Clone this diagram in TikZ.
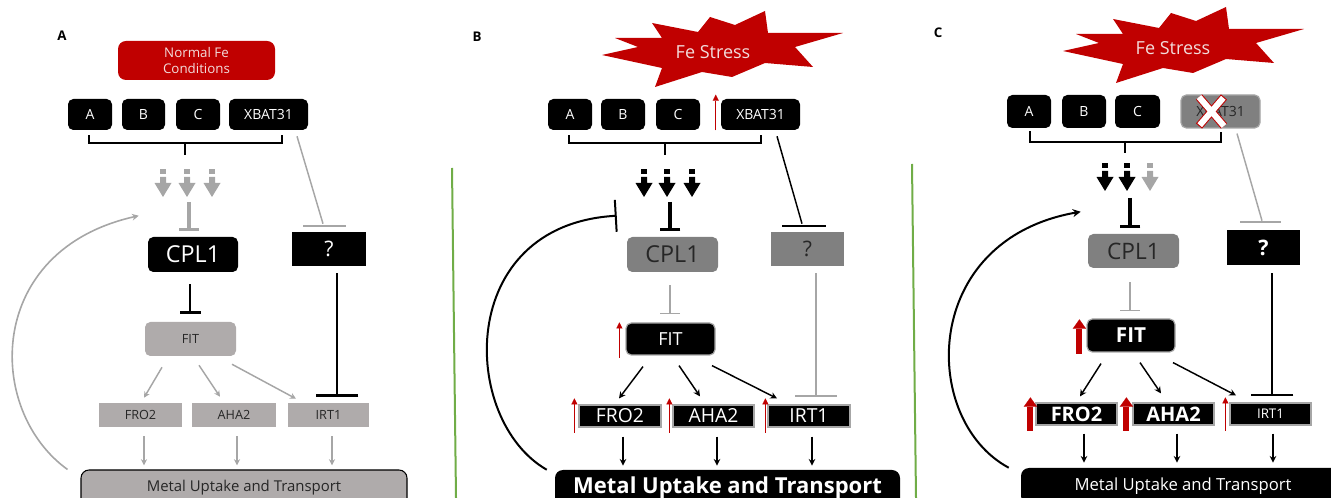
\documentclass[tikz,border=0pt]{standalone}
\usepackage{fontspec}
\setmainfont{Open Sans}
\usetikzlibrary{arrows.meta,calc}
\newcommand\myfs[1]{\fontsize{#1}{#1}\selectfont}
\definecolor{fered}{HTML}{C00000}
\definecolor{lgray}{HTML}{AFABAB}
\definecolor{mgray}{HTML}{808080}
\definecolor{lngray}{HTML}{A6A6A6}
\definecolor{dtext}{HTML}{262626}
\definecolor{brdgray}{HTML}{A6A6A6}
\definecolor{grn}{HTML}{70AD47}
\definecolor{pinktxt}{HTML}{F2DCDB}
\tikzset{
  sz/.style 2 args={minimum width=#1*0.75pt, minimum height=#2*0.75pt},
  bx/.style={rectangle, inner sep=0pt, align=center},
  rbx/.style={bx, rounded corners=4pt},
  blk/.style={fill=black, text=white},
  gbrd/.style={draw=brdgray, line width=0.9pt},
  lbl/.style={font=\myfs{10.5}},
  garr/.style={draw=lngray, line width=1.1pt, -{Stealth[length=4.5pt,width=4.5pt]}},
  barr/.style={draw=black, line width=1.1pt, -{Stealth[length=5pt,width=5pt]}},
  gline/.style={draw=lngray, line width=1.1pt},
  bline/.style={draw=black, line width=1.1pt},
  bracket/.style={draw=black, line width=1.4pt},
  redthin/.style={draw=fered, line width=1.1pt, -{Triangle[length=4.5pt,width=4.5pt,line width=0.1pt]}},
  redthick/.style={draw=fered, line width=4.5pt, -{Triangle[length=7pt,width=10pt,line width=0.1pt]}},
  inhthick/.style={line width=3.4pt, -{Bar[width=15.5pt,line width=2.4pt]}},
  inhthin/.style={line width=1.1pt, -{Bar[width=15pt,line width=1.2pt]}},
  inhlong/.style={line width=1.5pt, -{Bar[width=32pt,line width=1.8pt]}},
  pics/blockarr/.style={code={
    \path[pic actions] (-3,0) rectangle (3,5);
    \path[pic actions] (-3,8) -- (3,8) -- (3,14) -- (8.5,14) -- (0,28) -- (-8.5,14) -- (-3,14) -- cycle;
  }},
  pics/burst/.style={code={
    \path[pic actions] (-118,5) -- (-82,-3) -- (-105,-12) -- (-58,-12) -- (-68,-27) -- (-22,-18)
      -- (-10,-33) -- (15,-25) -- (45,-39) -- (48,-17) -- (123,-17) -- (75,-3) -- (93,17)
      -- (45,13) -- (12,27) -- (-18,22) -- (-65,37) -- (-58,18) -- cycle;
  }},
}
\begin{document}
\begin{tikzpicture}[x=0.75pt,y=-0.75pt]
\useasboundingbox (0,0) rectangle (1331,498);

% ================= Panel A =================
\node[font=\bfseries\myfs{10}] (labA) at (62,36) {A};
\node[rbx, sz={157}{39}, fill=fered, text=pinktxt, rounded corners=6pt,
      font=\fontsize{10}{12}\selectfont] (normA) at (196.5,60.5) {Normal Fe\\Conditions};
\node[rbx,blk,sz={44}{31},lbl] (aA) at (90,114.5) {A};
\node[rbx,blk,sz={43}{31},lbl] (bA) at (143.5,114.5) {B};
\node[rbx,blk,sz={44}{31},lbl] (cA) at (198,114.5) {C};
\node[rbx,blk,sz={79}{31},lbl] (xA) at (268.5,114.5) {XBAT31};
\node[rbx,blk,sz={90}{35},font=\myfs{17.5}] (cplA) at (193,254.5) {CPL1};
\node[bx,blk,sz={74}{34},font=\myfs{16}] (qA) at (329,249) {?};
\node[rbx,fill=lgray,text=dtext,sz={91}{34},font=\myfs{9.5}] (fitA) at (190.5,339) {FIT};
\node[bx,fill=lgray,text=dtext,sz={83}{24},font=\myfs{9.5}] (fro2A) at (140.5,415) {FRO2};
\node[bx,fill=lgray,text=dtext,sz={84}{24},font=\myfs{9.5}] (aha2A) at (234,415) {AHA2};
\node[bx,fill=lgray,text=dtext,sz={81}{24},font=\myfs{9.5}] (irt1A) at (328.5,415) {IRT1};
\node[rbx,fill=lgray,draw=black,line width=0.8pt,text=dtext,sz={326}{36},rounded corners=6pt,
      font=\myfs{11.2}] (metA) at (244,488) {Metal Uptake and Transport};

\draw[bracket] ($(aA.south)+(-1,5)$) |- ($(xA.south)+(13.5,13)$) -- ++(0,-8);
\coordinate (brA) at (185,143);
\draw[bracket] (brA) -- ++(0,12);
\pic[fill=lngray] at (163,169) {blockarr};
\pic[fill=lngray] at (187,169) {blockarr};
\pic[fill=lngray] at (212,169) {blockarr};
\draw[inhthick, draw=lngray] (189,202) -- ($(cplA.north)+(-4,-6)$);
\draw[gline] ($(xA.south)+(28.5,6)$) -- ($(qA.north)+(-6,-8)$);
\draw[gline, line width=1.5pt] ($(qA.north)+(-26,-6)$) -- ($(qA.north)+(17,-6)$);
\draw[black, line width=1.5pt, -{Bar[width=15.75pt,line width=1.8pt]}] ($(cplA.south)+(-3,12)$) -- ($(fitA.north)+(-0.5,-8)$);
\draw[black, inhlong] ($(qA.south)+(8,7)$) -- ($(irt1A.north)+(8.5,-6)$);
\draw[garr] ($(fitA.south)+(-28.5,11)$) -- ($(fro2A.north)+(3.5,-5)$);
\draw[garr] ($(fitA.south)+(8.5,9)$) -- ($(aha2A.north)+(-14,-6)$);
\draw[garr] ($(fitA.south)+(41.5,8)$) -- ($(irt1A.north)+(-32.5,-4)$);
\draw[garr] ($(fro2A.south)+(3.5,9)$) -- ++(0,29);
\draw[garr] ($(aha2A.south)+(3,9)$) -- ++(0,29);
\draw[garr] ($(irt1A.south)+(3.5,9)$) -- ++(0,29);
\draw[draw=lngray, line width=1.2pt, -{Stealth[length=5pt,width=5pt]}]
  ($(metA.north west)+(-13,0)$) .. controls (-15,410) and (-15,250) .. ($(cplA.north west)+(-9,-21)$);

% ================= Panel B =================
\draw[grn, line width=1.5pt] (452,168) -- (456,498);
\node[font=\bfseries\myfs{10}] (labB) at (477,37) {B};
\pic[fill=fered] at (720,50) {burst};
\node[font=\myfs{13.5}, text=pinktxt] (feB) at (713,52) {Fe Stress};
\node[rbx,blk,sz={44}{31},lbl] (aB) at (570,114.5) {A};
\node[rbx,blk,sz={44}{31},lbl] (bB) at (623,114.5) {B};
\node[rbx,blk,sz={44}{31},lbl] (cB) at (678,114.5) {C};
\node[rbx,blk,sz={79}{31},lbl] (xB) at (760.5,114.5) {XBAT31};
\node[rbx,fill=mgray,text=dtext,sz={91}{35},font=\myfs{17.5}] (cplB) at (672.5,254.5) {CPL1};
\node[bx,fill=mgray,text=dtext,sz={73}{34},font=\myfs{16}] (qB) at (807.5,249) {?};
\node[rbx,blk,gbrd,sz={89}{32},font=\myfs{13.5}] (fitB) at (670.5,339) {FIT};
\node[bx,blk,gbrd,sz={82}{22},font=\myfs{14.5}] (fro2B) at (620,416) {FRO2};
\node[bx,blk,gbrd,sz={81}{22},font=\myfs{14.5}] (aha2B) at (713.5,416) {AHA2};
\node[bx,blk,gbrd,sz={82}{22},font=\myfs{14.5}] (irt1B) at (809,416) {IRT1};
\node[rbx,blk,sz={345}{36},rounded corners=6pt,font=\bfseries\myfs{16.5}] (metB) at (727.5,488) {Metal Uptake and Transport};

\draw[redthin] ($(xB.south west)+(-5,0)$) -- ($(xB.north west)+(-5,-4)$);
\draw[bracket] ($(aB.south)+(-1,5)$) |- ($(xB.south)+(0.5,13)$) -- ++(0,-8);
\coordinate (brB) at (665,143);
\draw[bracket] (brB) -- ++(0,12);
\pic[fill=black] at (644,169) {blockarr};
\pic[fill=black] at (667,169) {blockarr};
\pic[fill=black] at (692,169) {blockarr};
\draw[inhthick, draw=black] (670,202) -- ($(cplB.north)+(-2.5,-6)$);
\draw[bline] ($(xB.south)+(16.5,6)$) -- ($(qB.north)+(-5.5,-8)$);
\draw[bline, line width=1.5pt] ($(qB.north)+(-25.5,-6)$) -- ($(qB.north)+(18.5,-6)$);
\draw[inhthin, draw=lngray] ($(cplB.south)+(-2.5,13)$) -- ($(fitB.north)+(-0.5,-8)$);
\draw[redthin] ($(fitB.south west)+(-6,2)$) -- ($(fitB.north west)+(-6,0)$);
\draw[draw=lngray, line width=1.1pt, -{Bar[width=31.5pt,line width=1.5pt]}] ($(qB.south)+(8.5,7)$) -- ($(irt1B.north)+(7,-7)$);
\draw[barr] ($(fitB.south)+(-27.5,11)$) -- ($(fro2B.north)+(-1,-6)$);
\draw[barr] ($(fitB.south)+(8.5,10)$) -- ($(aha2B.north)+(-13.5,-8)$);
\draw[barr] ($(fitB.south)+(41.5,10)$) -- ($(irt1B.north)+(-32,-6)$);
\draw[redthin] ($(fro2B.south west)+(-4,5)$) -- ($(fro2B.north west)+(-4,-6)$);
\draw[redthin] ($(aha2B.south west)+(-3,5)$) -- ($(aha2B.north west)+(-3,-6)$);
\draw[redthin] ($(irt1B.south west)+(-2,5)$) -- ($(irt1B.north west)+(-2,-6)$);
\draw[barr] ($(fro2B.south)+(3,9)$) -- ++(0,29);
\draw[barr] ($(aha2B.south)+(3.5,9)$) -- ++(0,29);
\draw[barr] ($(irt1B.south)+(3,9)$) -- ++(0,29);
\draw[draw=black, line width=1.5pt, -{Bar[width=24pt,line width=1.5pt]}]
  ($(metB.north west)+(-8,0)$) .. controls (460,420) and (455,225) .. ($(cplB.north west)+(-10,-21)$);

% ================= Panel C =================
\draw[grn, line width=1.5pt] (912,164) -- (916,498);
\node[font=\bfseries\myfs{10}] (labC) at (938,33) {C};
\pic[fill=fered] at (1181,46) {burst};
\node[font=\myfs{13.5}, text=pinktxt] (feC) at (1173,48) {Fe Stress};
\node[rbx,blk,sz={44}{33},lbl] (aC) at (1029,111.5) {A};
\node[rbx,blk,sz={44}{33},lbl] (bC) at (1084,111.5) {B};
\node[rbx,blk,sz={45}{33},lbl] (cC) at (1137.5,111.5) {C};
\node[rbx,fill=mgray,draw=brdgray,line width=0.9pt,text=dtext,sz={79}{33},lbl] (xC) at (1220.5,111.5) {XBAT31};
\draw[fered, line width=6pt] (1199,97) -- (1224,126) (1224,97) -- (1199,126);
\draw[white, line width=4.5pt, shorten <=0.8pt, shorten >=0.8pt] (1199,97) -- (1224,126) (1224,97) -- (1199,126);
\node[rbx,fill=mgray,text=dtext,sz={91}{34},font=\myfs{17}] (cplC) at (1133.5,251) {CPL1};
\node[bx,blk,sz={73}{35},font=\bfseries\myfs{16}] (qC) at (1263.5,247.5) {?};
\node[rbx,blk,gbrd,sz={88}{33},font=\bfseries\myfs{15.5}] (fitC) at (1131,335.5) {FIT};
\node[bx,blk,gbrd,sz={81}{22},font=\bfseries\myfs{15}] (fro2C) at (1076.5,414) {FRO2};
\node[bx,blk,gbrd,sz={81}{22},font=\bfseries\myfs{15}] (aha2C) at (1173.5,414) {AHA2};
\node[bx,blk,gbrd,sz={81}{22},font=\myfs{10}] (irt1C) at (1270.5,414) {IRT1};
\node[rbx,blk,sz={324}{36},rounded corners=6pt,font=\myfs{12.5}] (metC) at (1183,486) {Metal Uptake and Transport};

\draw[bracket] ($(aC.south)+(1,3)$) |- ($(xC.south)+(0.5,13)$) -- ++(0,-10);
\coordinate (brC) at (1125,141);
\draw[bracket] (brC) -- ++(0,12);
\pic[fill=black] at (1105,163) {blockarr};
\pic[fill=black] at (1127,163) {blockarr};
\pic[fill=lngray] at (1150,163) {blockarr};
\draw[inhthick, draw=black] (1130,198) -- ($(cplC.north)+(-3.5,-6)$);
\draw[gline] ($(xC.south)+(16.5,5)$) -- ($(qC.north)+(-1.5,-9)$);
\draw[gline, line width=1.5pt] ($(qC.north)+(-23.5,-8)$) -- ($(qC.north)+(17.5,-8)$);
\draw[inhthin, draw=lngray] ($(cplC.south)+(-3.5,14)$) -- ($(fitC.north)+(-1,-7)$);
\draw[redthick] ($(fitC.south west)+(-7,1)$) -- ($(fitC.north west)+(-7,1)$);
\draw[black, inhlong] ($(qC.south)+(8.5,8)$) -- ($(irt1C.north)+(1.5,-6)$);
\draw[barr] ($(fitC.south)+(-30,11)$) -- ($(fro2C.north)+(3.5,-6)$);
\draw[barr] ($(fitC.south)+(9,10)$) -- ($(aha2C.north)+(-12.5,-9)$);
\draw[barr] ($(fitC.south)+(42,10)$) -- ($(irt1C.north)+(-34.5,-7)$);
\draw[redthick] ($(fro2C.south west)+(-5,5)$) -- ($(fro2C.north west)+(-5,-5)$);
\draw[redthick] ($(aha2C.south west)+(-6,5)$) -- ($(aha2C.north west)+(-6,-5)$);
\draw[redthin] ($(irt1C.south west)+(-4,5)$) -- ($(irt1C.north west)+(-4,-5)$);
\draw[barr] ($(fro2C.south)+(7.5,8)$) -- ++(0,29);
\draw[barr] ($(aha2C.south)+(3.5,8)$) -- ++(0,29);
\draw[barr] ($(irt1C.south)+(2.5,8)$) -- ++(0,29);
\draw[draw=black, line width=1.5pt, -{Stealth[length=6pt,width=6pt]}]
  ($(metC.north west)+(-12,0)$) .. controls (920,420) and (920,240) .. ($(cplC.north west)+(-7,-22)$);
\end{tikzpicture}
\end{document}
